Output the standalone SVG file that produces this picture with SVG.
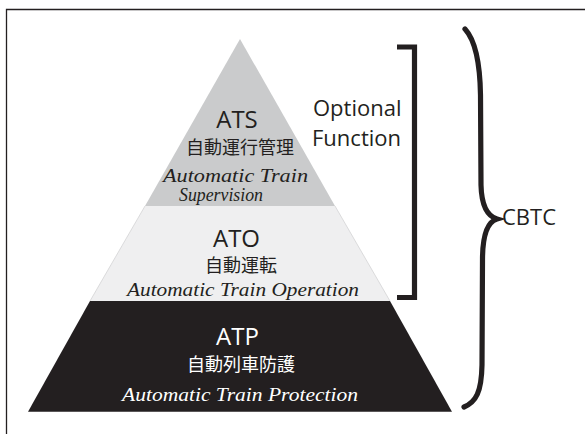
<svg xmlns="http://www.w3.org/2000/svg" width="585" height="434" viewBox="0 0 585 434">
  <style>
    .frame { fill: none; stroke: #231f20; stroke-width: 1.3; }
    .mark { fill: none; stroke: #231f20; stroke-width: 5.2; }
    .abbr { font-family: "Open Sans", "Noto Sans", sans-serif; font-size: 24px; text-anchor: middle; }
    .jp { font-family: "Noto Sans CJK JP", sans-serif; font-size: 18px; text-anchor: middle; }
    .full { font-family: "Liberation Serif", serif; font-style: italic; font-size: 19px; text-anchor: middle; }
    .label { font-family: "Open Sans", "Noto Sans", sans-serif; font-size: 22px; fill: #231f20; }
    .dark { fill: #231f20; }
    .light { fill: #ffffff; }
  </style>

  <rect width="585" height="434" fill="#ffffff"/>

  <!-- page frame: top rule and left rule -->
  <path class="frame" d="M6.5,434 V9.5 H585"/>

  <!-- top tier -->
  <g id="ats">
    <polygon points="240,39 335,206 145,206" fill="#cacbcc"/>
    <text class="abbr dark" x="237" y="127.5" font-size="23">ATS</text>
    <text class="jp dark" x="240" y="153.5">自動運行管理</text>
    <text class="full dark" x="235.5" y="182" textLength="145" lengthAdjust="spacingAndGlyphs">Automatic Train</text>
    <text class="full dark" x="221" y="201" font-size="17.5" textLength="84" lengthAdjust="spacingAndGlyphs">Supervision</text>
  </g>

  <!-- middle tier -->
  <g id="ato">
    <polygon points="145,206 335,206 390,301 90,301" fill="#efeff0"/>
    <path d="M145,206 L90,301 M335,206 L390,301" fill="none" stroke="#cfcfd0" stroke-width="0.7"/>
    <text class="abbr dark" x="236.5" y="247">ATO</text>
    <text class="jp dark" x="241" y="272">自動運転</text>
    <text class="full dark" x="243" y="296" textLength="232" lengthAdjust="spacingAndGlyphs">Automatic Train Operation</text>
  </g>

  <!-- base tier -->
  <g id="atp">
    <polygon points="90,301 390,301 452,411.7 28,411.7" fill="#231f20"/>
    <text class="abbr light" x="237.5" y="345">ATP</text>
    <text class="jp light" x="241" y="371">自動列車防護</text>
    <text class="full light" x="240" y="401" textLength="236" lengthAdjust="spacingAndGlyphs">Automatic Train Protection</text>
  </g>

  <!-- grouping marks: square bracket and curly brace -->
  <g id="brackets">
    <path class="mark" d="M397,47 H414.5 V297.5 H397"/>
    <path class="mark" stroke-linecap="round" d="M465,29 C475,40 480,62 480.5,95 L481,185 C481.5,205 487,216 497,219 C487,222 482.5,235 482.5,260 L482,365 C481.5,392 476,402 464,407"/>
  </g>

  <g id="optional-label">
    <text class="label" x="313" y="116">Optional</text>
    <text class="label" x="312" y="146">Function</text>
  </g>

  <g id="cbtc-label">
    <text class="label" x="502" y="225" font-size="21">CBTC</text>
  </g>
</svg>
